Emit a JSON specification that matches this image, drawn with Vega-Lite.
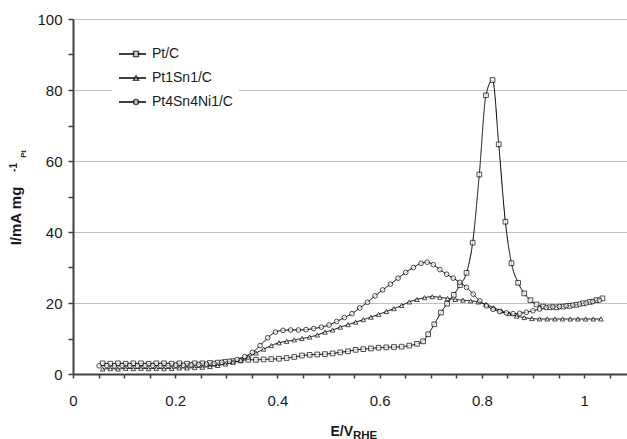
{
  "$schema": "https://vega.github.io/schema/vega-lite/v6.json",
  "width": 554,
  "height": 355,
  "autosize": "none",
  "padding": {"left": 73, "top": 19, "right": 0, "bottom": 65},
  "background": "white",
  "config": {
    "view": {"stroke": null},
    "font": "Liberation Sans"
  },
  "data": {
    "values": [
      {"s":"Pt/C","v":0.058,"i":3.0},{"s":"Pt/C","v":0.073,"i":2.9},{"s":"Pt/C","v":0.088,"i":3.0},{"s":"Pt/C","v":0.103,"i":2.9},{"s":"Pt/C","v":0.118,"i":3.0},{"s":"Pt/C","v":0.133,"i":3.0},{"s":"Pt/C","v":0.148,"i":2.9},{"s":"Pt/C","v":0.163,"i":3.0},{"s":"Pt/C","v":0.178,"i":3.0},{"s":"Pt/C","v":0.193,"i":2.9},{"s":"Pt/C","v":0.208,"i":3.0},{"s":"Pt/C","v":0.223,"i":2.9},{"s":"Pt/C","v":0.238,"i":3.0},{"s":"Pt/C","v":0.253,"i":3.0},{"s":"Pt/C","v":0.268,"i":3.1},{"s":"Pt/C","v":0.283,"i":3.2},{"s":"Pt/C","v":0.298,"i":3.4},{"s":"Pt/C","v":0.313,"i":3.6},{"s":"Pt/C","v":0.328,"i":3.8},{"s":"Pt/C","v":0.343,"i":4.0},{"s":"Pt/C","v":0.358,"i":4.0},{"s":"Pt/C","v":0.373,"i":4.1},{"s":"Pt/C","v":0.388,"i":4.2},{"s":"Pt/C","v":0.403,"i":4.3},{"s":"Pt/C","v":0.418,"i":4.5},{"s":"Pt/C","v":0.433,"i":4.8},{"s":"Pt/C","v":0.448,"i":5.2},{"s":"Pt/C","v":0.463,"i":5.4},{"s":"Pt/C","v":0.478,"i":5.5},{"s":"Pt/C","v":0.493,"i":5.6},{"s":"Pt/C","v":0.508,"i":5.8},{"s":"Pt/C","v":0.523,"i":6.1},{"s":"Pt/C","v":0.538,"i":6.4},{"s":"Pt/C","v":0.553,"i":6.8},{"s":"Pt/C","v":0.568,"i":7.0},{"s":"Pt/C","v":0.583,"i":7.2},{"s":"Pt/C","v":0.598,"i":7.4},{"s":"Pt/C","v":0.613,"i":7.5},{"s":"Pt/C","v":0.628,"i":7.6},{"s":"Pt/C","v":0.643,"i":7.7},{"s":"Pt/C","v":0.658,"i":8.0},{"s":"Pt/C","v":0.673,"i":8.5},{"s":"Pt/C","v":0.685,"i":9.2},{"s":"Pt/C","v":0.695,"i":11.2},{"s":"Pt/C","v":0.707,"i":14.0},{"s":"Pt/C","v":0.72,"i":17.3},{"s":"Pt/C","v":0.732,"i":19.8},{"s":"Pt/C","v":0.745,"i":22.3},{"s":"Pt/C","v":0.757,"i":25.0},{"s":"Pt/C","v":0.77,"i":28.5},{"s":"Pt/C","v":0.782,"i":37.0},{"s":"Pt/C","v":0.795,"i":56.2},{"s":"Pt/C","v":0.808,"i":78.5},{"s":"Pt/C","v":0.821,"i":82.8},{"s":"Pt/C","v":0.833,"i":64.7},{"s":"Pt/C","v":0.846,"i":42.9},{"s":"Pt/C","v":0.858,"i":31.2},{"s":"Pt/C","v":0.871,"i":25.7},{"s":"Pt/C","v":0.883,"i":22.7},{"s":"Pt/C","v":0.895,"i":20.8},{"s":"Pt/C","v":0.907,"i":19.6},{"s":"Pt/C","v":0.92,"i":19.0},{"s":"Pt/C","v":0.933,"i":18.8},{"s":"Pt/C","v":0.946,"i":18.8},{"s":"Pt/C","v":0.959,"i":19.0},{"s":"Pt/C","v":0.972,"i":19.2},{"s":"Pt/C","v":0.985,"i":19.5},{"s":"Pt/C","v":0.998,"i":19.9},{"s":"Pt/C","v":1.011,"i":20.3},{"s":"Pt/C","v":1.024,"i":20.8},{"s":"Pt/C","v":1.036,"i":21.3},

      {"s":"Pt1Sn1/C","v":0.058,"i":1.4},{"s":"Pt1Sn1/C","v":0.073,"i":1.5},{"s":"Pt1Sn1/C","v":0.088,"i":1.4},{"s":"Pt1Sn1/C","v":0.103,"i":1.6},{"s":"Pt1Sn1/C","v":0.118,"i":1.5},{"s":"Pt1Sn1/C","v":0.133,"i":1.6},{"s":"Pt1Sn1/C","v":0.148,"i":1.5},{"s":"Pt1Sn1/C","v":0.163,"i":1.6},{"s":"Pt1Sn1/C","v":0.178,"i":1.5},{"s":"Pt1Sn1/C","v":0.193,"i":1.6},{"s":"Pt1Sn1/C","v":0.208,"i":1.7},{"s":"Pt1Sn1/C","v":0.223,"i":1.7},{"s":"Pt1Sn1/C","v":0.238,"i":1.8},{"s":"Pt1Sn1/C","v":0.253,"i":1.9},{"s":"Pt1Sn1/C","v":0.268,"i":2.1},{"s":"Pt1Sn1/C","v":0.283,"i":2.4},{"s":"Pt1Sn1/C","v":0.298,"i":2.8},{"s":"Pt1Sn1/C","v":0.313,"i":3.3},{"s":"Pt1Sn1/C","v":0.328,"i":3.9},{"s":"Pt1Sn1/C","v":0.343,"i":4.8},{"s":"Pt1Sn1/C","v":0.358,"i":5.9},{"s":"Pt1Sn1/C","v":0.373,"i":7.0},{"s":"Pt1Sn1/C","v":0.388,"i":8.0},{"s":"Pt1Sn1/C","v":0.403,"i":8.8},{"s":"Pt1Sn1/C","v":0.418,"i":9.2},{"s":"Pt1Sn1/C","v":0.433,"i":9.6},{"s":"Pt1Sn1/C","v":0.448,"i":10.0},{"s":"Pt1Sn1/C","v":0.463,"i":10.4},{"s":"Pt1Sn1/C","v":0.478,"i":11.0},{"s":"Pt1Sn1/C","v":0.493,"i":11.8},{"s":"Pt1Sn1/C","v":0.508,"i":12.4},{"s":"Pt1Sn1/C","v":0.523,"i":13.2},{"s":"Pt1Sn1/C","v":0.538,"i":13.9},{"s":"Pt1Sn1/C","v":0.553,"i":14.6},{"s":"Pt1Sn1/C","v":0.568,"i":15.3},{"s":"Pt1Sn1/C","v":0.583,"i":16.0},{"s":"Pt1Sn1/C","v":0.598,"i":16.8},{"s":"Pt1Sn1/C","v":0.613,"i":17.6},{"s":"Pt1Sn1/C","v":0.628,"i":18.4},{"s":"Pt1Sn1/C","v":0.643,"i":19.3},{"s":"Pt1Sn1/C","v":0.658,"i":20.3},{"s":"Pt1Sn1/C","v":0.673,"i":21.0},{"s":"Pt1Sn1/C","v":0.688,"i":21.5},{"s":"Pt1Sn1/C","v":0.703,"i":21.8},{"s":"Pt1Sn1/C","v":0.718,"i":21.6},{"s":"Pt1Sn1/C","v":0.733,"i":21.3},{"s":"Pt1Sn1/C","v":0.748,"i":21.0},{"s":"Pt1Sn1/C","v":0.763,"i":20.8},{"s":"Pt1Sn1/C","v":0.778,"i":20.6},{"s":"Pt1Sn1/C","v":0.793,"i":20.3},{"s":"Pt1Sn1/C","v":0.808,"i":19.6},{"s":"Pt1Sn1/C","v":0.823,"i":18.7},{"s":"Pt1Sn1/C","v":0.838,"i":17.8},{"s":"Pt1Sn1/C","v":0.853,"i":17.0},{"s":"Pt1Sn1/C","v":0.868,"i":16.3},{"s":"Pt1Sn1/C","v":0.883,"i":15.9},{"s":"Pt1Sn1/C","v":0.898,"i":15.6},{"s":"Pt1Sn1/C","v":0.913,"i":15.5},{"s":"Pt1Sn1/C","v":0.928,"i":15.5},{"s":"Pt1Sn1/C","v":0.943,"i":15.5},{"s":"Pt1Sn1/C","v":0.958,"i":15.5},{"s":"Pt1Sn1/C","v":0.973,"i":15.5},{"s":"Pt1Sn1/C","v":0.988,"i":15.5},{"s":"Pt1Sn1/C","v":1.003,"i":15.5},{"s":"Pt1Sn1/C","v":1.018,"i":15.5},{"s":"Pt1Sn1/C","v":1.033,"i":15.5},

      {"s":"Pt4Sn4Ni1/C","v":0.051,"i":2.3},{"s":"Pt4Sn4Ni1/C","v":0.066,"i":2.4},{"s":"Pt4Sn4Ni1/C","v":0.081,"i":2.3},{"s":"Pt4Sn4Ni1/C","v":0.096,"i":2.4},{"s":"Pt4Sn4Ni1/C","v":0.111,"i":2.4},{"s":"Pt4Sn4Ni1/C","v":0.126,"i":2.3},{"s":"Pt4Sn4Ni1/C","v":0.141,"i":2.4},{"s":"Pt4Sn4Ni1/C","v":0.156,"i":2.4},{"s":"Pt4Sn4Ni1/C","v":0.171,"i":2.4},{"s":"Pt4Sn4Ni1/C","v":0.186,"i":2.4},{"s":"Pt4Sn4Ni1/C","v":0.201,"i":2.5},{"s":"Pt4Sn4Ni1/C","v":0.216,"i":2.5},{"s":"Pt4Sn4Ni1/C","v":0.231,"i":2.6},{"s":"Pt4Sn4Ni1/C","v":0.246,"i":2.7},{"s":"Pt4Sn4Ni1/C","v":0.261,"i":2.8},{"s":"Pt4Sn4Ni1/C","v":0.276,"i":3.0},{"s":"Pt4Sn4Ni1/C","v":0.291,"i":3.3},{"s":"Pt4Sn4Ni1/C","v":0.306,"i":3.6},{"s":"Pt4Sn4Ni1/C","v":0.321,"i":4.1},{"s":"Pt4Sn4Ni1/C","v":0.336,"i":4.9},{"s":"Pt4Sn4Ni1/C","v":0.351,"i":6.1},{"s":"Pt4Sn4Ni1/C","v":0.366,"i":8.0},{"s":"Pt4Sn4Ni1/C","v":0.381,"i":10.2},{"s":"Pt4Sn4Ni1/C","v":0.396,"i":11.8},{"s":"Pt4Sn4Ni1/C","v":0.411,"i":12.3},{"s":"Pt4Sn4Ni1/C","v":0.426,"i":12.4},{"s":"Pt4Sn4Ni1/C","v":0.441,"i":12.4},{"s":"Pt4Sn4Ni1/C","v":0.456,"i":12.5},{"s":"Pt4Sn4Ni1/C","v":0.471,"i":12.8},{"s":"Pt4Sn4Ni1/C","v":0.486,"i":13.2},{"s":"Pt4Sn4Ni1/C","v":0.501,"i":13.8},{"s":"Pt4Sn4Ni1/C","v":0.516,"i":14.8},{"s":"Pt4Sn4Ni1/C","v":0.531,"i":15.9},{"s":"Pt4Sn4Ni1/C","v":0.546,"i":17.0},{"s":"Pt4Sn4Ni1/C","v":0.561,"i":18.6},{"s":"Pt4Sn4Ni1/C","v":0.576,"i":20.2},{"s":"Pt4Sn4Ni1/C","v":0.591,"i":22.0},{"s":"Pt4Sn4Ni1/C","v":0.606,"i":23.7},{"s":"Pt4Sn4Ni1/C","v":0.621,"i":25.3},{"s":"Pt4Sn4Ni1/C","v":0.636,"i":27.0},{"s":"Pt4Sn4Ni1/C","v":0.651,"i":28.6},{"s":"Pt4Sn4Ni1/C","v":0.666,"i":30.0},{"s":"Pt4Sn4Ni1/C","v":0.681,"i":31.2},{"s":"Pt4Sn4Ni1/C","v":0.693,"i":31.5},{"s":"Pt4Sn4Ni1/C","v":0.705,"i":30.8},{"s":"Pt4Sn4Ni1/C","v":0.718,"i":29.4},{"s":"Pt4Sn4Ni1/C","v":0.731,"i":28.1},{"s":"Pt4Sn4Ni1/C","v":0.744,"i":27.0},{"s":"Pt4Sn4Ni1/C","v":0.757,"i":25.8},{"s":"Pt4Sn4Ni1/C","v":0.77,"i":24.4},{"s":"Pt4Sn4Ni1/C","v":0.783,"i":22.5},{"s":"Pt4Sn4Ni1/C","v":0.796,"i":20.6},{"s":"Pt4Sn4Ni1/C","v":0.809,"i":19.2},{"s":"Pt4Sn4Ni1/C","v":0.822,"i":18.2},{"s":"Pt4Sn4Ni1/C","v":0.835,"i":17.6},{"s":"Pt4Sn4Ni1/C","v":0.848,"i":17.2},{"s":"Pt4Sn4Ni1/C","v":0.861,"i":17.0},{"s":"Pt4Sn4Ni1/C","v":0.874,"i":17.1},{"s":"Pt4Sn4Ni1/C","v":0.887,"i":17.4},{"s":"Pt4Sn4Ni1/C","v":0.9,"i":17.8},{"s":"Pt4Sn4Ni1/C","v":0.913,"i":18.3},{"s":"Pt4Sn4Ni1/C","v":0.926,"i":18.7},{"s":"Pt4Sn4Ni1/C","v":0.939,"i":18.9},{"s":"Pt4Sn4Ni1/C","v":0.952,"i":19.0},{"s":"Pt4Sn4Ni1/C","v":0.965,"i":19.2},{"s":"Pt4Sn4Ni1/C","v":0.978,"i":19.4},{"s":"Pt4Sn4Ni1/C","v":0.991,"i":19.7},{"s":"Pt4Sn4Ni1/C","v":1.004,"i":20.0},{"s":"Pt4Sn4Ni1/C","v":1.017,"i":20.4},{"s":"Pt4Sn4Ni1/C","v":1.03,"i":20.8}
    ]
  },
  "resolve": {"axis": {"x": "independent", "y": "independent"}},
  "layer": [
    {
      "mark": {"type": "line", "color": "black", "strokeWidth": 1, "interpolate": "monotone"},
      "encoding": {
        "x": {
          "field": "v", "type": "quantitative",
          "scale": {"domain": [0, 1.084], "nice": false, "zero": false},
          "axis": {
            "values": [0, 0.05, 0.1, 0.15, 0.2, 0.25, 0.3, 0.35, 0.4, 0.45, 0.5, 0.55, 0.6, 0.65, 0.7, 0.75, 0.8, 0.85, 0.9, 0.95, 1, 1.05],
            "labelExpr": "abs(datum.value * 5 - round(datum.value * 5)) < 0.000001 ? format(datum.value, '~g') : ''",
            "grid": false,
            "domainColor": "#404040", "domainWidth": 2,
            "tickColor": "#404040", "tickWidth": 1.5, "tickSize": 4,
            "labelFont": "Liberation Sans", "labelFontSize": 15, "labelColor": "#1a1a1a", "labelPadding": 15,
            "labelFlush": false,
            "title": "E/V",
            "titleFont": "Liberation Sans", "titleFontSize": 14, "titleFontWeight": "bold", "titleColor": "#1a1a1a",
            "titleAlign": "left", "titleBaseline": "alphabetic", "titleX": 257, "titleY": 61.5
          }
        },
        "y": {
          "field": "i", "type": "quantitative",
          "scale": {"domain": [0, 100], "nice": false},
          "axis": {
            "values": [0, 10, 20, 30, 40, 50, 60, 70, 80, 90, 100],
            "labelExpr": "datum.value % 20 === 0 ? datum.label : ''",
            "grid": true,
            "gridColor": "#c0c0c0",
            "gridOpacity": {"condition": {"test": "datum.value % 20 === 0 && datum.value > 0", "value": 1}, "value": 0},
            "domainColor": "#404040", "domainWidth": 2,
            "tickColor": "#404040", "tickWidth": 1.5, "tickSize": 5,
            "labelFont": "Liberation Sans", "labelFontSize": 15, "labelColor": "#1a1a1a", "labelPadding": 6,
            "title": "I/mA mg",
            "titleFont": "Liberation Sans", "titleFontSize": 15, "titleFontWeight": "bold", "titleColor": "#1a1a1a",
            "titleAngle": 270, "titleAlign": "center", "titleBaseline": "alphabetic", "titleX": -53, "titleY": 196.5
          }
        },
        "strokeDash": {
          "field": "s", "type": "nominal",
          "scale": {"domain": ["Pt/C", "Pt1Sn1/C", "Pt4Sn4Ni1/C"], "range": [[1, 0], [1, 0], [1, 0]]},
          "legend": {
            "title": null,
            "orient": "none", "legendX": 39, "legendY": 17,
            "padding": 6, "fillColor": "white",
            "symbolSize": 729, "clipHeight": 24, "rowPadding": 0,
            "labelFont": "Liberation Sans", "labelFontSize": 14, "labelColor": "#1a1a1a", "labelOffset": 5
          }
        }
      }
    },
    {
      "transform": [{"filter": "datum.s !== 'Pt4Sn4Ni1/C'"}],
      "mark": {"type": "point", "filled": true, "fill": "white", "stroke": "black", "strokeWidth": 1, "size": 22},
      "encoding": {
        "x": {
          "field": "v", "type": "quantitative",
          "axis": {
            "orient": "bottom", "domain": false, "ticks": false, "labels": false, "grid": false,
            "title": "RHE",
            "titleFont": "Liberation Sans", "titleFontSize": 11.5, "titleFontWeight": "bold", "titleColor": "#1a1a1a",
            "titleAlign": "left", "titleBaseline": "alphabetic", "titleX": 279.5, "titleY": 64
          }
        },
        "y": {
          "field": "i", "type": "quantitative",
          "axis": {
            "orient": "left", "domain": false, "ticks": false, "labels": false, "grid": false,
            "title": "-1",
            "titleFont": "Liberation Sans", "titleFontSize": 10, "titleFontWeight": "bold", "titleColor": "#1a1a1a",
            "titleAngle": 270, "titleAlign": "center", "titleBaseline": "alphabetic", "titleX": -56.5, "titleY": 148
          }
        },
        "shape": {
          "field": "s", "type": "nominal",
          "scale": {"range": ["square", "triangle-up", "circle"]},
          "legend": {
            "title": null,
            "orient": "none", "legendX": 50, "legendY": 17,
            "padding": 6,
            "symbolSize": 25, "clipHeight": 24, "rowPadding": 0,
            "labelExpr": "''",
            "labelFont": "Liberation Sans", "labelFontSize": 14, "labelOffset": 5
          }
        }
      }
    },
    {
      "transform": [{"filter": "datum.s === 'Pt4Sn4Ni1/C'"}],
      "mark": {"type": "point", "filled": true, "fill": "white", "stroke": "black", "strokeWidth": 1, "size": 22},
      "encoding": {
        "x": {
          "field": "v", "type": "quantitative",
          "axis": {
            "orient": "bottom", "domain": false, "ticks": false, "labels": false, "grid": false,
            "title": "Pt",
            "titleFont": "Liberation Sans", "titleFontSize": 7.5, "titleFontWeight": "bold", "titleColor": "#1a1a1a",
            "titleAngle": 270, "titleAlign": "center", "titleBaseline": "alphabetic", "titleX": -47.5, "titleY": -220.5
          }
        },
        "y": {"field": "i", "type": "quantitative", "axis": null},
        "shape": {
          "field": "s", "type": "nominal",
          "scale": {"range": ["square", "triangle-up", "circle"]},
          "legend": {
            "title": null,
            "orient": "none", "legendX": 50, "legendY": 17,
            "padding": 6,
            "symbolSize": 25, "clipHeight": 24, "rowPadding": 0,
            "labelExpr": "''",
            "labelFont": "Liberation Sans", "labelFontSize": 14, "labelOffset": 5
          }
        }
      }
    }
  ]
}
